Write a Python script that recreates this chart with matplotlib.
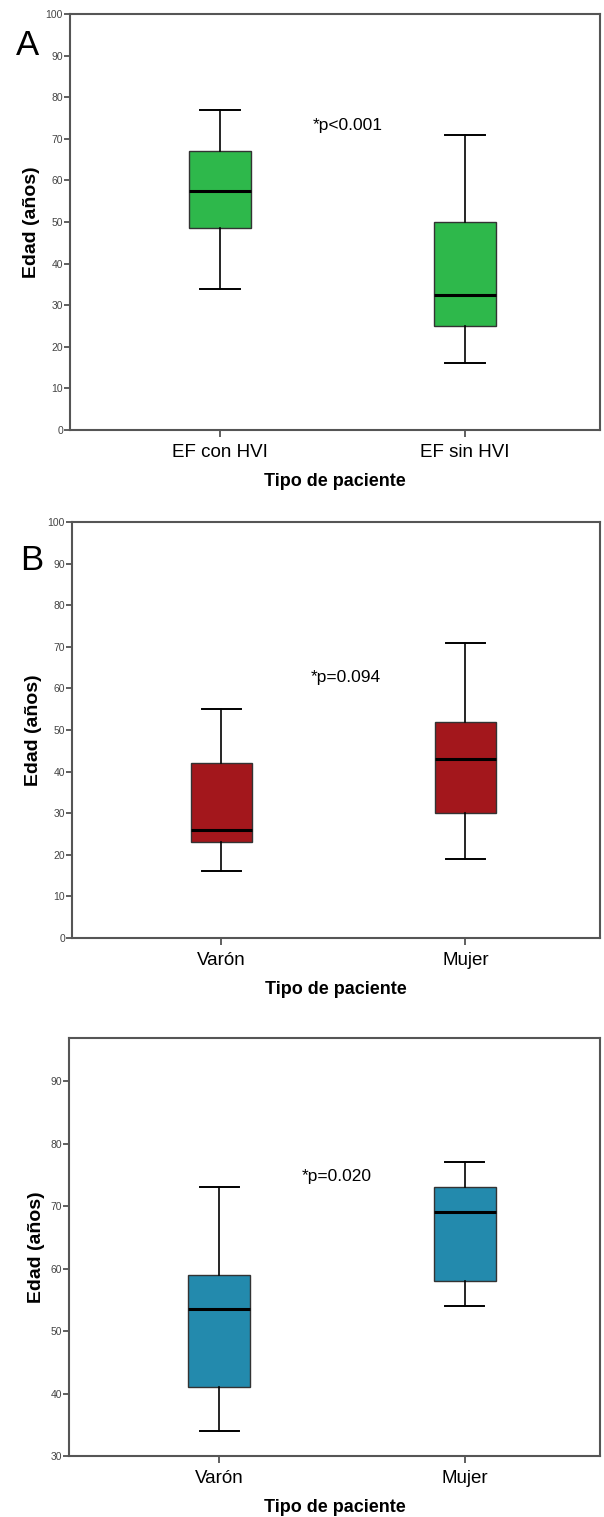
import matplotlib.pyplot as plt

plt.rcParams['font.family'] = ['Liberation Sans', 'DejaVu Sans']

# Panel A: EF con HVI vs EF sin HVI
cats_a = ['EF con HVI', 'EF sin HVI']
a_whislo = [34, 16]
a_q1 = [48.5, 25]
a_med = [57.5, 32.5]
a_q3 = [67, 50]
a_whishi = [77, 71]

# Panel B: sexo (grupo sin HVI)
cats_b = ['Varón', 'Mujer']
b_whislo = [16, 19]
b_q1 = [23, 30]
b_med = [26, 43]
b_q3 = [42, 52]
b_whishi = [55, 71]

# Panel C: sexo (grupo con HVI)
cats_c = ['Varón', 'Mujer']
c_whislo = [34, 54]
c_q1 = [41, 58]
c_med = [53.5, 69]
c_q3 = [59, 73]
c_whishi = [73, 77]

pvals = ['*p<0.001', '*p=0.094', '*p=0.020']

fig = plt.figure(figsize=(6.04, 15.17), dpi=100)
W, H = 604, 1517


def px_axes(left, top, right, bottom):
    return fig.add_axes([left / W, 1 - bottom / H, (right - left) / W, (bottom - top) / H])


def panel(ax, cats, lo, q1, med, q3, hi, color, ylim, yticks, ptxt, pxy, letter=None, lpos=None):
    stats = []
    for i in range(len(cats)):
        stats.append(dict(whislo=lo[i], q1=q1[i], med=med[i], q3=q3[i], whishi=hi[i], fliers=[]))
    ax.bxp(stats, positions=[1, 2], widths=0.253, patch_artist=True, showfliers=False,
           boxprops=dict(facecolor=color, edgecolor='#333333', linewidth=1.0),
           medianprops=dict(color='black', linewidth=2.2),
           whiskerprops=dict(color='black', linewidth=1.2),
           capprops=dict(color='black', linewidth=1.4), capwidths=0.16)
    ax.set_xlim(0.388, 2.551)
    ax.set_ylim(*ylim)
    ax.set_yticks(yticks)
    ax.set_xticks([1, 2])
    ax.set_xticklabels(cats, fontsize=13.5)
    ax.tick_params(axis='y', labelsize=7.5, colors='#444444', length=4, width=1.2, pad=1)
    ax.tick_params(axis='x', length=5, width=1.2, colors='#444444', labelcolor='black', pad=5)
    for s in ax.spines.values():
        s.set_color('#555555')
        s.set_linewidth(1.5)
    ax.set_xlabel('Tipo de paciente', fontsize=13, fontweight='bold', labelpad=9)
    ax.set_ylabel('Edad (años)', fontsize=14, fontweight='bold', labelpad=4)
    ax.text(pxy[0], pxy[1], ptxt, fontsize=12.5, ha='center', va='center')
    if letter:
        ax.text(lpos[0], lpos[1], letter, transform=ax.transAxes, fontsize=25,
                ha='center', va='baseline')


ax1 = px_axes(70, 14, 600, 430)
panel(ax1, cats_a, a_whislo, a_q1, a_med, a_q3, a_whishi, '#2EB84B',
      (0, 100), range(0, 101, 10), pvals[0], (1.52, 73.1), 'A', (-0.081, 0.901))

ax2 = px_axes(72, 522, 600, 938)
panel(ax2, cats_b, b_whislo, b_q1, b_med, b_q3, b_whishi, '#A3171C',
      (0, 100), range(0, 101, 10), pvals[1], (1.51, 62.7), 'B', (-0.076, 0.885))

ax3 = px_axes(69, 1038, 600, 1456)
panel(ax3, cats_c, c_whislo, c_q1, c_med, c_q3, c_whishi, '#238AAD',
      (30, 96.9), range(30, 91, 10), pvals[2], (1.48, 74.8))

fig.savefig('out.png', dpi=100, facecolor='white')
